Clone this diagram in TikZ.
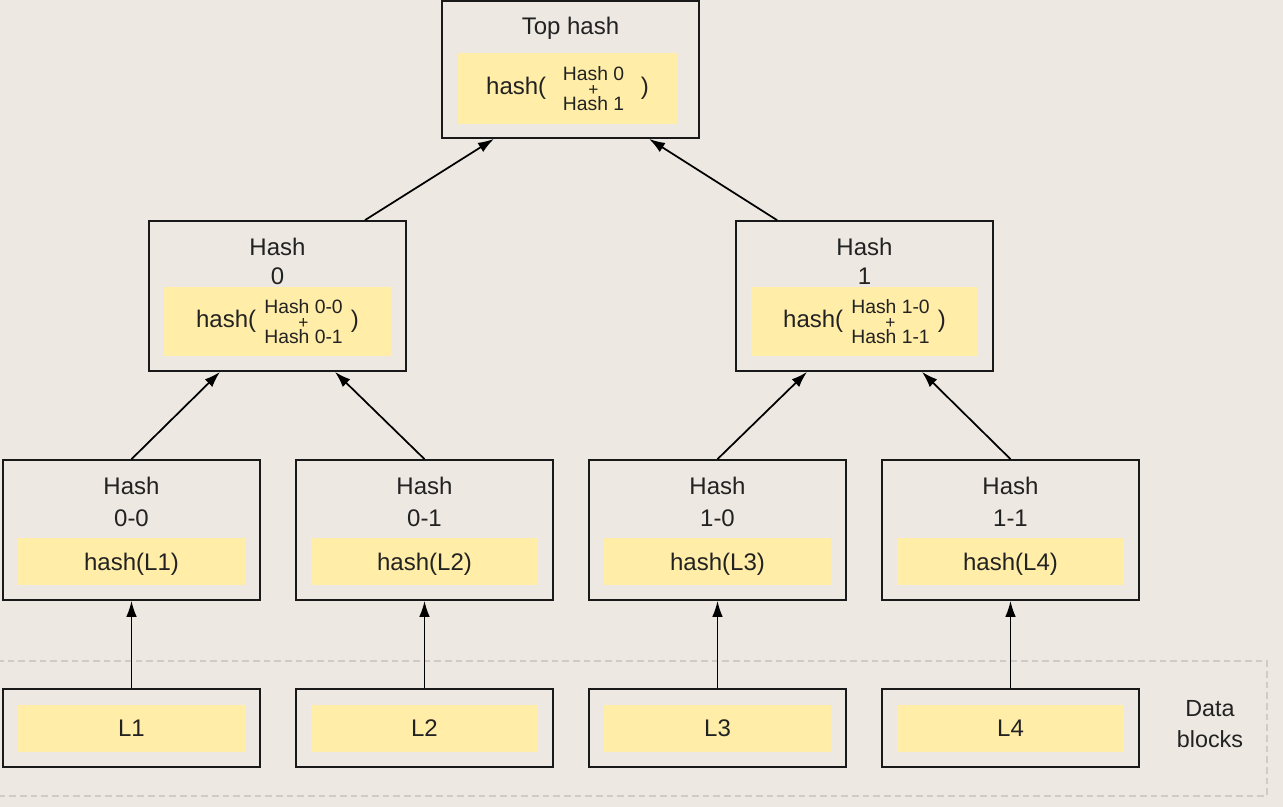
\documentclass[tikz,border=0pt]{standalone}
\usepackage{fontspec}
\setmainfont{Liberation Sans}
\usetikzlibrary{arrows.meta}
\definecolor{bg}{HTML}{EDE9E2}
\definecolor{yel}{HTML}{FFEDA8}
\definecolor{dashc}{HTML}{CFCCC7}
\definecolor{ink}{HTML}{222222}
\newcommand\bigf{\fontsize{18}{21.75}\selectfont}
\newcommand\hstk[2]{$\vcenter{\hsize=71pt\fontsize{14.5}{11.4}\selectfont\centering #1\par {\fontsize{13}{11.4}\selectfont+}\par #2\par}$}
\begin{document}
\begin{tikzpicture}[x=0.75pt,y=-0.75pt,
  outer/.style={draw=black!90,line width=1.3pt,inner sep=0pt,minimum width=192.75pt},
  yb/.style={fill=yel,inner sep=0pt,minimum width=170.25pt,text=ink,font=\bigf},
  ttl/.style={inner sep=0pt,align=center,text=ink},
  midttl/.style={ttl,font=\fontsize{18}{21.75}\selectfont},
  leafttl/.style={ttl,font=\fontsize{18}{24}\selectfont},
  arr/.style={line width=1.3pt,-{Latex[length=12pt,width=8pt]}}]
\fill[bg] (0,0) rectangle (1283,807);
\useasboundingbox (0,0) rectangle (1283,807);
\draw[dashc,line width=1.2pt,dash pattern=on 5pt off 3pt] (-5,661) rectangle (1267,796);

% top
\node[outer,minimum height=102.75pt] (top) at (570.5,69.5) {};
\node[yb,minimum width=164.25pt,minimum height=53.25pt] (topy) at (567.5,88.5) {hash(\hstk{Hash 0}{Hash 1})};
\node[ttl,font=\bigf] (topt) at (570.5,28) {Top hash};

% middle
\foreach \n/\x/\a/\b/\c in {h0/277.5/0/0-0/0-1, h1/864.5/1/1-0/1-1}{
  \node[outer,minimum height=112.5pt] (\n) at (\x,296) {};
  \node[yb,minimum height=51.75pt] (\n y) at (\x,321.5) {hash(\hstk{Hash \b}{Hash \c})};
  \node[midttl] (\n t) at (\x,261) {Hash\\\a};
}

% leaves
\foreach \n/\x/\a/\l in {l1/131.5/0-0/L1, l2/424.5/0-1/L2, l3/717.5/1-0/L3, l4/1010.5/1-1/L4}{
  \node[outer,minimum height=105pt] (\n) at (\x,530) {};
  \node[yb,minimum height=35.25pt,text depth=0pt] (\n y) at (\x,561.5) {hash(\l)};
  \node[leafttl] (\n t) at (\x,502) {Hash\\\a};
  \node[outer,minimum height=58.5pt] (d\n) at (\x,728) {};
  \node[yb,minimum height=35.25pt] (d\n y) at (\x,728.5) {\l};
}

\node[ttl,font=\fontsize{17.5}{23.25}\selectfont] (dbl) at (1210,724.5) {Data\\blocks};

% connectors
\draw[arr] ([xshift=65.6pt]h0.north) -- ([xshift=-57.4pt]top.south);
\draw[arr] ([xshift=-65.6pt]h1.north) -- ([xshift=58.9pt]top.south);
\draw[arr] (l1.north) -- ([xshift=-43.1pt]h0.south);
\draw[arr] (l2.north) -- ([xshift=43.1pt]h0.south);
\draw[arr] (l3.north) -- ([xshift=-43.1pt]h1.south);
\draw[arr] (l4.north) -- ([xshift=43.1pt]h1.south);
\foreach \n in {l1,l2,l3,l4}{
  \draw[arr] (d\n.north) -- (\n.south);
}
\end{tikzpicture}
\end{document}
